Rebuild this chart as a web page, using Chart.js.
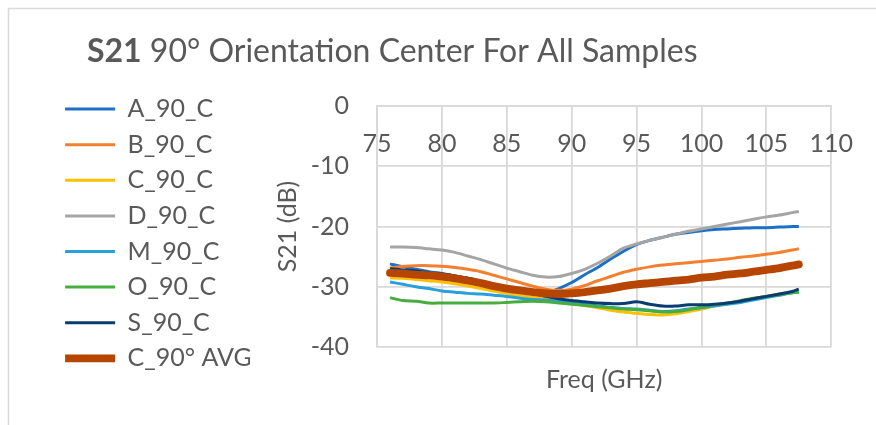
<!DOCTYPE html>
<html>
<head>
<meta charset="utf-8">
<script src="https://cdn.jsdelivr.net/npm/chart.js@4/dist/chart.umd.min.js"></script>
<style>
  html, body { margin: 0; padding: 0; background: #ffffff; }
  #wrap { width: 876px; height: 425px; }
</style>
</head>
<body>
<div id="wrap"><canvas id="c" width="876" height="425"></canvas></div>
<script>
// ---- data ----
const freqGHz = [76,77,78,79,80,81,82,83,84,85,86,87,88,89,90,91,92,93,94,95,96,97,98,99,100,101,102,103,104,105,106,107,107.5];

const A_90_C = [-26.2,-26.7,-27.1,-27.5,-27.8,-28.2,-28.6,-29.1,-29.6,-30.1,-30.6,-31.0,-31.1,-30.3,-29.3,-28.0,-26.8,-25.4,-24.1,-23.0,-22.3,-21.8,-21.3,-21.0,-20.7,-20.5,-20.4,-20.3,-20.2,-20.2,-20.1,-20.0,-20.0];
const B_90_C = [-26.9,-26.6,-26.5,-26.5,-26.6,-26.8,-27.1,-27.5,-28.1,-28.7,-29.3,-29.9,-30.4,-30.6,-30.4,-29.8,-29.0,-28.3,-27.6,-27.1,-26.7,-26.4,-26.2,-26.0,-25.8,-25.6,-25.4,-25.1,-24.9,-24.6,-24.3,-23.9,-23.7];
const C_90_C = [-28.5,-28.6,-28.8,-29.0,-29.2,-29.5,-29.9,-30.3,-30.7,-31.1,-31.5,-31.8,-32.0,-32.3,-32.7,-33.1,-33.5,-33.9,-34.2,-34.4,-34.6,-34.7,-34.5,-34.1,-33.7,-33.2,-32.8,-32.4,-32.0,-31.6,-31.2,-30.9,-30.8];
const D_90_C = [-23.4,-23.4,-23.5,-23.7,-23.9,-24.3,-24.9,-25.5,-26.2,-26.9,-27.5,-28.1,-28.4,-28.3,-27.8,-27.1,-26.1,-24.9,-23.6,-22.9,-22.3,-21.8,-21.3,-20.8,-20.4,-20.0,-19.6,-19.2,-18.8,-18.4,-18.1,-17.7,-17.5];
const M_90_C = [-29.2,-29.6,-30.0,-30.3,-30.7,-30.9,-31.1,-31.2,-31.4,-31.6,-31.9,-32.1,-32.2,-32.4,-32.6,-32.9,-33.2,-33.4,-33.6,-33.7,-33.9,-34.1,-34.0,-33.7,-33.5,-33.2,-32.9,-32.6,-32.2,-31.8,-31.4,-31.0,-30.9];
const O_90_C = [-31.8,-32.3,-32.4,-32.7,-32.7,-32.7,-32.7,-32.7,-32.7,-32.6,-32.5,-32.4,-32.5,-32.7,-32.9,-33.1,-33.3,-33.5,-33.7,-33.8,-34.0,-34.2,-34.1,-33.8,-33.4,-33.0,-32.7,-32.3,-31.9,-31.6,-31.3,-31.0,-30.9];
const S_90_C = [-27.0,-27.2,-27.4,-27.7,-27.9,-28.2,-28.6,-29.1,-29.6,-30.1,-30.6,-31.1,-31.6,-32.0,-32.3,-32.5,-32.7,-32.8,-32.8,-32.5,-32.9,-33.2,-33.2,-33.0,-33.0,-32.9,-32.7,-32.4,-32.0,-31.6,-31.2,-30.8,-30.4];
const C_90_AVG = [-27.7,-27.8,-28.0,-28.1,-28.3,-28.6,-29.0,-29.4,-29.9,-30.3,-30.6,-30.9,-31.1,-31.2,-31.1,-30.9,-30.6,-30.3,-29.9,-29.6,-29.4,-29.2,-29.0,-28.8,-28.5,-28.3,-28.0,-27.8,-27.5,-27.2,-26.9,-26.5,-26.3];

const seriesNames = ['A_90_C','B_90_C','C_90_C','D_90_C','M_90_C','O_90_C','S_90_C','C_90° AVG'];
const seriesValues = [A_90_C, B_90_C, C_90_C, D_90_C, M_90_C, O_90_C, S_90_C, C_90_AVG];
const xTicks = { min: 75, max: 110, step: 5 };
const yTicks = { min: -40, max: 0, step: 10 };
const titleBold = 'S21';
const titleRest = ' 90° Orientation Center For All Samples';
const xTitle = 'Freq (GHz)';
const yTitle = 'S21 (dB)';

// ---- styles ----
const seriesColors = ['#1C71C6','#F47F2F','#FFC000','#A5A5A5','#27A0DC','#47AE3E','#0B3C70','#B54500'];
const FONT = 'Lato, "Open Sans", sans-serif';
const TEXT = '#595959';
const GRID = '#D9D9D9';
const PAD_LEFT = 54.5;
const PLOT_LEFT = 377;
const YTITLE_CENTER = 288;

const datasets = seriesNames.map((name, i) => {
  const isAvg = i === seriesNames.length - 1;
  return {
    label: name,
    data: freqGHz.map((f, k) => ({ x: f, y: seriesValues[i][k] })),
    borderColor: seriesColors[i],
    backgroundColor: seriesColors[i],
    borderWidth: isAvg ? 7.8 : 3,
    borderCapStyle: isAvg ? 'round' : 'butt',
    pointRadius: 0,
    tension: 0.3,
    order: seriesNames.length - 1 - i
  };
});

const framePlugin = {
  id: 'frame',
  beforeDraw(chart) {
    const ctx = chart.ctx;
    ctx.save();
    ctx.fillStyle = '#ffffff';
    ctx.fillRect(0, 0, chart.width, chart.height);
    ctx.strokeStyle = GRID;
    ctx.lineWidth = 1.5;
    ctx.strokeRect(8.5, 8.5, chart.width + 20, chart.height + 20);
    ctx.restore();
  }
};

const richTitle = {
  id: 'richTitle',
  afterDraw(chart) {
    const ctx = chart.ctx;
    ctx.save();
    ctx.fillStyle = TEXT;
    ctx.textBaseline = 'alphabetic';
    ctx.textAlign = 'left';
    ctx.font = 'bold 32px ' + FONT;
    ctx.fillText(titleBold, 87, 61.5);
    const w = ctx.measureText(titleBold).width;
    ctx.font = '32px ' + FONT;
    ctx.fillText(titleRest, 87 + w, 61.5);
    ctx.restore();
  }
};

const tickFont = { family: FONT, size: 25 };

new Chart(document.getElementById('c'), {
  type: 'line',
  data: { datasets },
  plugins: [framePlugin, richTitle],
  options: {
    responsive: false,
    animation: false,
    devicePixelRatio: 1,
    layout: { padding: { top: 86, left: PAD_LEFT, right: 39, bottom: 30 } },
    plugins: {
      title: { display: false },
      tooltip: { enabled: false },
      legend: {
        position: 'left',
        align: 'start',
        labels: {
          usePointStyle: true,
          pointStyle: 'line',
          pointStyleWidth: 50,
          padding: 10.6,
          font: tickFont,
          color: TEXT,
          sort: (a, b) => a.datasetIndex - b.datasetIndex
        }
      }
    },
    scales: {
      x: {
        type: 'linear',
        min: xTicks.min, max: xTicks.max,
        position: { y: 0 },
        ticks: { stepSize: xTicks.step, font: tickFont, color: TEXT, padding: 23 },
        grid: { color: GRID, lineWidth: 1.8, drawTicks: false },
        border: { color: GRID, width: 1.8 }
      },
      xBottom: {
        type: 'linear', axis: 'x', position: 'bottom',
        min: xTicks.min, max: xTicks.max,
        ticks: { display: false },
        grid: { display: false },
        border: { display: false },
        title: { display: true, text: xTitle, font: tickFont, color: TEXT, padding: { top: 10, bottom: 0 } }
      },
      xTop: {
        type: 'linear', axis: 'x', position: 'top',
        min: xTicks.min, max: xTicks.max,
        ticks: { display: false },
        grid: { display: false },
        border: { display: false },
        afterFit(s) { s.height = 20; }
      },
      y: {
        type: 'linear',
        min: yTicks.min, max: yTicks.max,
        position: 'left',
        ticks: { stepSize: yTicks.step, font: tickFont, color: TEXT, padding: 28 },
        grid: { color: GRID, lineWidth: 1.8, drawTicks: false },
        border: { color: GRID, width: 1.8 },
        title: { display: true, text: yTitle, font: tickFont, color: TEXT, padding: { top: 8, bottom: 0 } },
        afterFit(s) {
          const lw = s.chart.legend ? s.chart.legend.width : 0;
          s.width = PLOT_LEFT - PAD_LEFT - lw;
          const pt = YTITLE_CENTER - 15 - (PAD_LEFT + lw);
          try { s.options.title.padding = { top: pt, bottom: 0, left: 0, right: 0 }; } catch (e) {}
        }
      }
    }
  }
});
</script>
</body>
</html>
